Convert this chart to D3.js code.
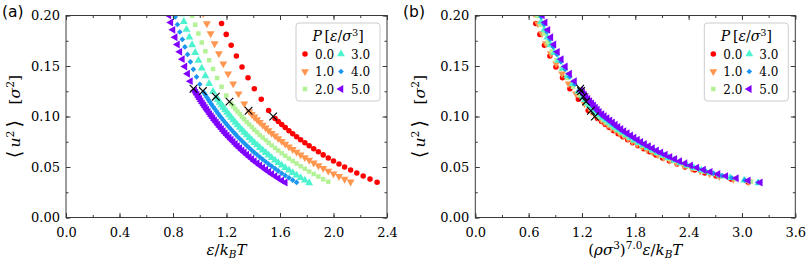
<!DOCTYPE html>
<html>
<head>
<meta charset="utf-8">
<script src="https://cdn.jsdelivr.net/npm/d3@7"></script>
<style>
  body { margin: 0; background: #fff; }
  svg { display: block; }
</style>
</head>
<body>
<script>
// pressure labels and rainbow colours, P = 0 ... 5
const pLabels = ["0.0", "1.0", "2.0", "3.0", "4.0", "5.0"];
const pColors = ["#ff0000", "#ff964f", "#b3f296", "#4df2ce", "#1a96f2", "#8000ff"];
const pShapes = ["circle", "triDown", "square", "triUp", "diamond", "triLeft"];

// tick labels
const xTicksA = ["0.0", "0.4", "0.8", "1.2", "1.6", "2.0", "2.4"];
const xTicksB = ["0.0", "0.6", "1.2", "1.8", "2.4", "3.0", "3.6"];
const yTicks = ["0.00", "0.05", "0.10", "0.15", "0.20"];

// <u^2> for each isobar (same values in both panels)
const u2P0 = [0.035,0.038,0.041,0.044,0.047,0.050,0.053,0.056,0.059,0.062,0.065,0.068,0.071,0.074,0.077,0.080,0.083,0.086,0.089,0.092,0.095,0.098,
  0.106,0.117,0.1275,0.1383,0.149,0.1598,0.1705,0.1813,0.192,0.2028];
const u2P1 = [0.0353,0.0380,0.0407,0.0433,0.0460,0.0487,0.0514,0.0541,0.0568,0.0594,0.0621,0.0648,0.0675,0.0701,0.0728,0.0755,0.0782,0.0809,0.0835,0.0862,0.0889,0.0916,0.0943,0.0969,0.0996,0.1023,0.1050,
  0.1126,0.1226,0.1325,0.1424,0.1523,0.1623,0.1722,0.1821,0.1920,0.2020];
const u2P2 = [0.0353,0.0379,0.0405,0.0430,0.0456,0.0482,0.0508,0.0534,0.0559,0.0585,0.0611,0.0637,0.0663,0.0688,0.0714,0.0740,0.0766,0.0792,0.0817,0.0843,0.0869,0.0895,0.0921,0.0946,0.0972,0.0998,0.1024,0.1050,0.1075,0.1101,0.1127,
  0.1207,0.1294,0.1382,0.1470,0.1558,0.1646,0.1733,0.1821,0.1909,0.1997];
const u2P3 = [0.0343,0.0368,0.0393,0.0418,0.0443,0.0468,0.0492,0.0517,0.0542,0.0567,0.0592,0.0617,0.0642,0.0667,0.0692,0.0717,0.0741,0.0766,0.0791,0.0816,0.0841,0.0866,0.0891,0.0916,0.0941,0.0966,0.0990,0.1015,0.1040,0.1065,0.1090,0.1115,0.1140,0.1165,0.1190,
  0.1248,0.1325,0.1402,0.1478,0.1555,0.1632,0.1709,0.1785,0.1862,0.1939,0.2015];
const u2P4 = [0.0347,0.0370,0.0393,0.0415,0.0438,0.0461,0.0484,0.0507,0.0529,0.0552,0.0575,0.0598,0.0621,0.0643,0.0666,0.0689,0.0712,0.0735,0.0757,0.0780,
  0.0803,0.0826,0.0849,0.0871,0.0894,0.0917,0.0940,0.0963,0.0985,0.1008,0.1031,0.1054,0.1077,0.1099,0.1122,0.1145,0.1168,0.1191,0.1213,0.1236,
  0.1319,0.1393,0.1467,0.1541,0.1615,0.1689,0.1763,0.1837,0.1911,0.1985];
const u2P5 = [0.0346,0.0367,0.0388,0.0410,0.0431,0.0452,0.0473,0.0494,0.0516,0.0537,0.0558,0.0579,0.0600,0.0622,0.0643,0.0664,0.0685,0.0706,0.0728,0.0749,0.0770,0.0791,
  0.0812,0.0834,0.0855,0.0876,0.0897,0.0918,0.0940,0.0961,0.0982,0.1003,0.1024,0.1046,0.1067,0.1088,0.1109,0.1130,0.1152,0.1173,0.1194,0.1215,0.1236,0.1258,
  0.1350,0.1423,0.1495,0.1568,0.1640,0.1713,0.1785,0.1858,0.1930,0.2003];

// panel (a) x: eps / kB T
const epsP0 = [2.326,2.273,2.222,2.174,2.128,2.083,2.041,2.000,1.961,1.923,1.887,1.852,1.818,1.786,1.754,1.724,1.695,1.667,1.639,1.613,1.587,1.563,
  1.515,1.460,1.408,1.361,1.316,1.274,1.235,1.198,1.163,1.130];
const epsP1 = [2.128,2.083,2.041,2.000,1.961,1.923,1.887,1.852,1.818,1.786,1.754,1.724,1.695,1.667,1.639,1.613,1.587,1.563,1.538,1.515,1.493,1.471,1.449,1.429,1.408,1.389,1.370,
  1.333,1.290,1.250,1.212,1.176,1.143,1.111,1.081,1.053,1.026];
const epsP2 = [1.961,1.923,1.887,1.852,1.818,1.786,1.754,1.724,1.695,1.667,1.639,1.613,1.587,1.563,1.538,1.515,1.493,1.471,1.449,1.429,1.408,1.389,1.370,1.351,1.333,1.316,1.299,1.282,1.266,1.250,1.235,
  1.198,1.163,1.130,1.099,1.070,1.042,1.015,0.990,0.966,0.943];
const epsP3 = [1.818,1.786,1.754,1.724,1.695,1.667,1.639,1.613,1.587,1.563,1.538,1.515,1.493,1.471,1.449,1.429,1.408,1.389,1.370,1.351,1.333,1.316,1.299,1.282,1.266,1.250,1.235,1.220,1.205,1.190,1.176,1.163,1.149,1.136,1.124,
  1.099,1.070,1.042,1.015,0.990,0.966,0.943,0.922,0.901,0.881,0.862];
const epsP4 = [1.724,1.695,1.667,1.639,1.613,1.587,1.563,1.538,1.515,1.493,1.471,1.449,1.429,1.408,1.389,1.370,1.351,1.333,1.316,1.299,
  1.282,1.266,1.250,1.235,1.220,1.205,1.190,1.176,1.163,1.149,1.136,1.124,1.111,1.099,1.087,1.075,1.064,1.053,1.042,1.031,
  1.000,0.976,0.952,0.930,0.909,0.889,0.870,0.851,0.833,0.816];
const epsP5 = [1.639,1.613,1.587,1.563,1.538,1.515,1.493,1.471,1.449,1.429,1.408,1.389,1.370,1.351,1.333,1.316,1.299,1.282,1.266,1.250,1.235,1.220,
  1.205,1.190,1.176,1.163,1.149,1.136,1.124,1.111,1.099,1.087,1.075,1.064,1.053,1.042,1.031,1.020,1.010,1.000,0.990,0.980,0.971,0.962,
  0.930,0.909,0.889,0.870,0.851,0.833,0.816,0.800,0.784,0.769];

// panel (b) x: (rho sigma^3)^7 eps / kB T
const scaledP0 = [3.07,2.878,2.708,2.582,2.468,2.36,2.27,2.184,2.106,2.032,1.96,1.894,1.83,1.77,1.714,1.66,1.606,1.554,1.506,1.462,1.42,1.375,
  1.27,1.16,1.064,0.981,0.907,0.839,0.778,0.727,0.68,0.633];
const scaledP1 = [3.076,2.903,2.746,2.636,2.529,2.432,2.343,2.262,2.188,2.121,2.055,1.990,1.930,1.873,1.819,1.766,1.717,1.669,1.622,1.576,1.533,1.493,1.455,1.417,1.376,1.340,1.305,
  1.229,1.132,1.050,0.976,0.910,0.849,0.794,0.749,0.705,0.661];
const scaledP2 = [3.101,2.934,2.779,2.674,2.568,2.475,2.386,2.308,2.237,2.169,2.104,2.041,1.981,1.926,1.872,1.820,1.771,1.724,1.679,1.633,1.590,1.548,1.511,1.476,1.437,1.398,1.364,1.330,1.305,1.279,1.253,
  1.174,1.099,1.031,0.970,0.913,0.861,0.814,0.774,0.734,0.696];
const scaledP3 = [3.185,3.025,2.865,2.744,2.639,2.545,2.459,2.379,2.304,2.236,2.171,2.109,2.049,1.993,1.938,1.886,1.838,1.791,1.746,1.701,1.656,1.614,1.574,1.538,1.503,1.466,1.430,1.396,1.363,1.335,1.310,1.285,1.260,1.235,1.210,
  1.158,1.095,1.036,0.985,0.935,0.889,0.846,0.810,0.775,0.741,0.708];
const scaledP4 = [3.179,3.032,2.885,2.777,2.680,2.590,2.508,2.429,2.363,2.295,2.235,2.175,2.120,2.067,2.015,1.964,1.916,1.870,1.827,1.786,
  1.745,1.703,1.662,1.626,1.590,1.556,1.524,1.491,1.458,1.425,1.395,1.366,1.343,1.321,1.298,1.275,1.252,1.229,1.209,1.189,
  1.120,1.063,1.012,0.963,0.919,0.877,0.840,0.806,0.774,0.741];
const scaledP5 = [3.206,3.071,2.937,2.818,2.730,2.643,2.567,2.492,2.422,2.359,2.299,2.245,2.190,2.137,2.087,2.039,1.993,1.948,1.904,1.862,1.824,1.786,
  1.748,1.709,1.672,1.638,1.605,1.575,1.544,1.514,1.482,1.451,1.424,1.395,1.373,1.352,1.331,1.310,1.288,1.267,1.246,1.227,1.209,1.189,
  1.116,1.061,1.013,0.967,0.924,0.884,0.850,0.817,0.785,0.754];

// melting points (black crosses)
const meltU2 = [0.100, 0.1057, 0.1147, 0.1196, 0.1252, 0.1275];
const meltEps = [1.549, 1.365, 1.222, 1.120, 1.023, 0.953];
const meltScaled = [1.345, 1.300, 1.245, 1.215, 1.190, 1.180];

const u2All = [u2P0, u2P1, u2P2, u2P3, u2P4, u2P5];
const epsAll = [epsP0, epsP1, epsP2, epsP3, epsP4, epsP5];
const scaledAll = [scaledP0, scaledP1, scaledP2, scaledP3, scaledP4, scaledP5];

const width = 809, height = 266;
const serif = "'DejaVu Serif', 'Liberation Serif', serif";
const plotTop = 15.5, plotBottom = 217.5;
const axisColor = "#3a3a3a";

const svg = d3.select("body").append("svg")
    .attr("width", width)
    .attr("height", height)
    .style("font-family", serif);

// symbols, roughly matplotlib sized
function markerPath(shape) {
    if (shape === "circle") return d3.symbol(d3.symbolCircle, 24)();
    if (shape === "square") return d3.symbol(d3.symbolSquare, 20)();
    if (shape === "diamond") return d3.symbol(d3.symbolSquare, 16)();
    return d3.symbol(d3.symbolTriangle, 27)();
}
function markerRotate(shape) {
    return {triDown: 180, triLeft: -90, diamond: 45}[shape] || 0;
}

// text with italic / super / subscript pieces; "b" = bigger delimiter
function addMath(text, parts, size) {
    let cur = 0;
    parts.forEach(([s, kind]) => {
        let shift = 0, fs = size;
        if (kind.includes("^")) { shift = -0.38 * size; fs = 0.7 * size; }
        if (kind.includes("_")) { shift = 0.2 * size; fs = 0.7 * size; }
        if (kind.includes("b")) { shift = 0.06 * size; fs = 1.25 * size; }
        text.append("tspan")
            .attr("dy", shift - cur)
            .style("font-size", fs + "px")
            .style("font-style", kind.includes("i") ? "italic" : "normal")
            .text(s);
        cur = shift;
    });
}

const panels = [
    {tag: "(a)", tagX: 2, left: 66, right: 387, xTickLabels: xTicksA, minorStep: 0.2,
     xs: epsAll, meltX: meltEps, ylabelX: 15,
     xlabel: [["ε", "i"], ["/", "r"], ["k", "i"], ["B", "i_"], ["T", "i"]]},
    {tag: "(b)", tagX: 403, left: 475.3, right: 795.3, xTickLabels: xTicksB, minorStep: 0.3,
     xs: scaledAll, meltX: meltScaled, ylabelX: 420,
     xlabel: [["(", "r"], ["ρσ", "i"], ["3", "^"], [")", "r"], ["7.0", "^"], ["ε", "i"], ["/", "r"], ["k", "i"], ["B", "i_"], ["T", "i"]]}
];

panels.forEach((p, pi) => {
    const xMax = +p.xTickLabels[p.xTickLabels.length - 1];
    const x = d3.scaleLinear().domain([0, xMax]).range([p.left, p.right]);
    const y = d3.scaleLinear().domain([0, 0.2]).range([plotBottom, plotTop]);
    const g = svg.append("g");

    const clipId = "clip" + pi;
    svg.append("clipPath").attr("id", clipId)
        .append("rect")
        .attr("x", p.left).attr("y", plotTop)
        .attr("width", p.right - p.left).attr("height", plotBottom - plotTop);

    // data markers
    const marks = g.append("g").attr("clip-path", `url(#${clipId})`);
    pLabels.forEach((lab, si) => {
        const ys = u2All[si], xs = p.xs[si];
        const n = Math.min(ys.length, xs.length);
        marks.append("g").selectAll("path")
            .data(d3.range(n))
            .join("path")
            .attr("d", markerPath(pShapes[si]))
            .attr("transform", i => `translate(${x(xs[i])},${y(ys[i])}) rotate(${markerRotate(pShapes[si])})`)
            .attr("fill", pColors[si]);
    });

    // melting points
    marks.append("g").selectAll("path")
        .data(meltU2.map((u, i) => [p.meltX[i], u]))
        .join("path")
        .attr("d", "M-3.8,-3.8L3.8,3.8M-3.8,3.8L3.8,-3.8")
        .attr("transform", d => `translate(${x(d[0])},${y(d[1])})`)
        .attr("stroke", "#000")
        .attr("stroke-width", 1.1)
        .attr("fill", "none");

    // axes: ticks pointing inward, on all four sides
    const xMajor = p.xTickLabels.map(Number);
    const xMinor = d3.range(0, xMax + 1e-9, p.minorStep);
    const yMajor = yTicks.map(Number);
    const yMinor = d3.range(0, 0.2 + 1e-9, 0.025);

    const axes = [
        [d3.axisBottom(x).tickValues(xMajor).tickFormat((d, i) => p.xTickLabels[i]).tickSize(-4.5).tickPadding(10), `translate(0,${plotBottom})`],
        [d3.axisBottom(x).tickValues(xMinor).tickFormat("").tickSize(-2.5), `translate(0,${plotBottom})`],
        [d3.axisTop(x).tickValues(xMajor).tickFormat("").tickSize(-4.5), `translate(0,${plotTop})`],
        [d3.axisTop(x).tickValues(xMinor).tickFormat("").tickSize(-2.5), `translate(0,${plotTop})`],
        [d3.axisLeft(y).tickValues(yMajor).tickFormat((d, i) => yTicks[i]).tickSize(-4.5).tickPadding(6), `translate(${p.left},0)`],
        [d3.axisLeft(y).tickValues(yMinor).tickFormat("").tickSize(-2.5), `translate(${p.left},0)`],
        [d3.axisRight(y).tickValues(yMajor).tickFormat("").tickSize(-4.5), `translate(${p.right},0)`],
        [d3.axisRight(y).tickValues(yMinor).tickFormat("").tickSize(-2.5), `translate(${p.right},0)`]
    ];
    axes.forEach(([ax, tr]) => {
        const a = g.append("g").attr("transform", tr).call(ax);
        a.attr("font-family", null).attr("font-size", null);
        a.select(".domain").remove();
        a.selectAll("line").attr("stroke", axisColor);
        a.selectAll("text").style("font-family", serif).style("font-size", "13px").attr("fill", "#000");
    });

    // frame
    g.append("rect")
        .attr("x", p.left).attr("y", plotTop)
        .attr("width", p.right - p.left).attr("height", plotBottom - plotTop)
        .attr("fill", "none").attr("stroke", axisColor).attr("stroke-width", 1);

    // axis labels
    const xl = g.append("text")
        .attr("x", (p.left + p.right) / 2).attr("y", 255)
        .attr("text-anchor", "middle");
    addMath(xl, p.xlabel, 15);

    const yl = g.append("text")
        .attr("transform", `translate(${p.ylabelX + 5},${(plotTop + plotBottom) / 2}) rotate(-90)`)
        .attr("text-anchor", "middle");
    addMath(yl, [["⟨", "b"], ["\u2009", "r"], ["u", "i"], ["2", "^"], ["\u2009", "r"], ["⟩", "b"], ["\u2003[", "r"], ["σ", "i"], ["2", "^"], ["]", "r"]], 15.5);

    // panel tag
    g.append("text")
        .attr("x", p.tagX).attr("y", 17)
        .style("font-family", "'DejaVu Sans', sans-serif")
        .style("font-size", "15.5px")
        .text(p.tag);

    // legend
    const L = p.right - 91, T = 23;
    const leg = g.append("g");
    leg.append("rect")
        .attr("x", L).attr("y", T).attr("width", 84).attr("height", 78)
        .attr("rx", 3)
        .attr("fill", "#fff").attr("fill-opacity", 0.8)
        .attr("stroke", "#cccccc").attr("stroke-width", 1);
    const title = leg.append("text")
        .attr("x", L + 42).attr("y", 41)
        .attr("text-anchor", "middle");
    addMath(title, [["P", "i"], ["\u2009[", "r"], ["ε", "i"], ["/", "r"], ["σ", "i"], ["3", "^"], ["]", "r"]], 14);

    pLabels.forEach((lab, si) => {
        const col = Math.floor(si / 3), row = si % 3;
        const cy = 54 + row * 17.5;
        const mx = L + 9 + col * 36;
        leg.append("path")
            .attr("d", markerPath(pShapes[si]))
            .attr("transform", `translate(${mx},${cy}) rotate(${markerRotate(pShapes[si])})`)
            .attr("fill", pColors[si]);
        leg.append("text")
            .attr("x", mx + 10).attr("y", cy + 4.5)
            .style("font-size", "12px")
            .text(lab);
    });
});
</script>
</body>
</html>
